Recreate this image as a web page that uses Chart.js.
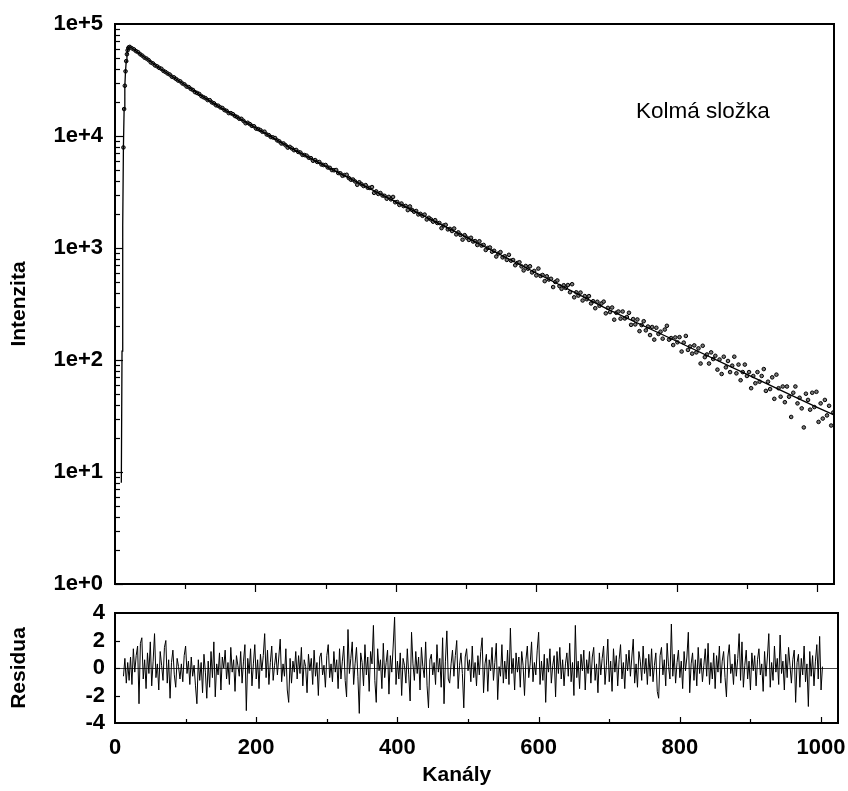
<!DOCTYPE html>
<html>
<head>
<meta charset="utf-8">
<script src="https://cdn.jsdelivr.net/npm/chart.js@4.4.1/dist/chart.umd.min.js"></script>
<style>
  body { margin:0; background:#fff; }
  #wrap { position:relative; width:848px; height:791px; }
  #top { position:absolute; left:0; top:0; }
  #bottom { position:absolute; left:0; top:600px; }
</style>
</head>
<body>
<div id="wrap">
  <canvas id="top" width="848" height="600"></canvas>
  <canvas id="bottom" width="848" height="191"></canvas>
</div>
<script>
// measured decay (channel -> counts)
var countChannels = [
  12,13,14,15,16,17,18,19,20,
  21,24,27,30,33,36,39,42,45,48,
  51,54,57,60,63,66,69,72,75,78,
  81,84,87,90,93,96,99,102,105,108,
  111,114,117,120,123,126,129,132,135,138,
  141,144,147,150,153,156,159,162,165,168,
  171,174,177,180,183,186,189,192,195,198,
  201,204,207,210,213,216,219,222,225,228,
  231,234,237,240,243,246,249,252,255,258,
  261,264,267,270,273,276,279,282,285,288,
  291,294,297,300,303,306,309,312,315,318,
  321,324,327,330,333,336,339,342,345,348,
  351,354,357,360,363,366,369,372,375,378,
  381,384,387,390,393,396,399,402,405,408,
  411,414,417,420,423,426,429,432,435,438,
  441,444,447,450,453,456,459,462,465,468,
  471,474,477,480,483,486,489,492,495,498,
  501,504,507,510,513,516,519,522,525,528,
  531,534,537,540,543,546,549,552,555,558,
  561,564,567,570,573,576,579,582,585,588,
  591,594,597,600,603,606,609,612,615,618,
  621,624,627,630,633,636,639,642,645,648,
  651,654,657,660,663,666,669,672,675,678,
  681,684,687,690,693,696,699,702,705,708,
  711,714,717,720,723,726,729,732,735,738,
  741,744,747,750,753,756,759,762,765,768,
  771,774,777,780,783,786,789,792,795,798,
  801,804,807,810,813,816,819,822,825,828,
  831,834,837,840,843,846,849,852,855,858,
  861,864,867,870,873,876,879,882,885,888,
  891,894,897,900,903,906,909,912,915,918,
  921,924,927,930,933,936,939,942,945,948,
  951,954,957,960,963,966,969,972,975,978,
  981,984,987,990,993,996,999,1002,1005,1008,
  1011,1014,1017,1020,1023
];
var counts = [
  7900,17400,28100,37800,46600,53700,58200,61100,62100,
  62450,60680,59350,57230,55940,53660,52140,50110,49060,47510,
  45390,44460,42700,41880,40560,39840,38150,37280,36110,35360,
  33850,33350,32280,31260,30740,29460,28880,27610,27330,26320,
  25740,24650,24200,23720,22710,22200,21750,20930,20880,19960,
  19570,18800,18630,18020,17760,17030,16760,16010,16000,15650,
  15070,14770,14270,14230,13650,13010,13120,12770,12310,12210,
  11640,11530,11300,10910,10920,10320,10180,9795,9709,9585,
  9142,8962,8572,8580,8258,7875,7997,7744,7468,7507,
  7205,7120,6788,6758,6673,6397,6341,6013,6095,5867,
  5858,5570,5506,5508,5238,5195,4962,4944,4970,4671,
  4643,4415,4478,4506,4215,4072,4084,3927,3667,3862,
  3712,3577,3641,3451,3435,3499,3106,3200,3041,3096,
  2941,2921,2755,2859,2719,2856,2561,2575,2425,2495,
  2368,2375,2180,2350,2188,2108,2140,1994,2017,1938,
  1988,1798,1861,1799,1718,1772,1673,1672,1504,1589,
  1610,1467,1481,1418,1493,1323,1378,1309,1187,1302,
  1236,1181,1234,1143,1152,1064,1149,1052,1065,960,
  1001,1010,927,944,839,892,919,825,844,783,
  869,771,781,702,735,746,685,631,691,654,
  687,605,624,569,655,563,574,506,559,523,
  531,448,498,513,457,432,465,440,467,403,
  475,363,402,376,400,340,372,349,372,320,
  335,290,331,305,320,332,261,292,268,294,
  229,264,271,234,271,235,242,264,206,232,
  208,230,181,205,222,184,199,167,197,152,
  194,171,179,155,187,202,152,157,136,159,
  144,160,119,143,164,123,132,114,135,117,
  127,93,134,106,112,93,117,102,109,82,
  101,75,107,86,98,78,89,107,76,91,
  66,78,91,72,78,56,72,62,78,64,
  72,83,53,64,55,70,45,74,56,47,
  58,42,58,47,31,51,58,41,46,37,
  25,50,44,36,51,38,52,28,41,30,
  44,32,39,26,34
];

// fitted curve
var fitChannels = [9,10,11,12,13,14,15,16,17,18,19,20,21,24,27,30,36,42,48,60,75,100,125,150,200,250,300,400,500,600,700,800,900,1000,1023];
var fitValues = [8,120,1600,8000,17500,28000,38000,46500,53500,58000,61000,62200,62400,60950,59150,57280,53830,50470,47420,41760,36190,28510,22450,18030,11890,7830,5383,2585,1250,598,288,147,74.5,37.8,32.5];

// weighted residuals
var residualChannels = [
  12,14,16,18,20,22,24,26,28,30,32,34,36,38,40,42,44,46,48,50,52,54,56,58,60,
  62,64,66,68,70,72,74,76,78,80,82,84,86,88,90,92,94,96,98,100,102,104,106,108,110,
  112,114,116,118,120,122,124,126,128,130,132,134,136,138,140,142,144,146,148,150,152,154,156,158,160,
  162,164,166,168,170,172,174,176,178,180,182,184,186,188,190,192,194,196,198,200,202,204,206,208,210,
  212,214,216,218,220,222,224,226,228,230,232,234,236,238,240,242,244,246,248,250,252,254,256,258,260,
  262,264,266,268,270,272,274,276,278,280,282,284,286,288,290,292,294,296,298,300,302,304,306,308,310,
  312,314,316,318,320,322,324,326,328,330,332,334,336,338,340,342,344,346,348,350,352,354,356,358,360,
  362,364,366,368,370,372,374,376,378,380,382,384,386,388,390,392,394,396,398,400,402,404,406,408,410,
  412,414,416,418,420,422,424,426,428,430,432,434,436,438,440,442,444,446,448,450,452,454,456,458,460,
  462,464,466,468,470,472,474,476,478,480,482,484,486,488,490,492,494,496,498,500,502,504,506,508,510,
  512,514,516,518,520,522,524,526,528,530,532,534,536,538,540,542,544,546,548,550,552,554,556,558,560,
  562,564,566,568,570,572,574,576,578,580,582,584,586,588,590,592,594,596,598,600,602,604,606,608,610,
  612,614,616,618,620,622,624,626,628,630,632,634,636,638,640,642,644,646,648,650,652,654,656,658,660,
  662,664,666,668,670,672,674,676,678,680,682,684,686,688,690,692,694,696,698,700,702,704,706,708,710,
  712,714,716,718,720,722,724,726,728,730,732,734,736,738,740,742,744,746,748,750,752,754,756,758,760,
  762,764,766,768,770,772,774,776,778,780,782,784,786,788,790,792,794,796,798,800,802,804,806,808,810,
  812,814,816,818,820,822,824,826,828,830,832,834,836,838,840,842,844,846,848,850,852,854,856,858,860,
  862,864,866,868,870,872,874,876,878,880,882,884,886,888,890,892,894,896,898,900,902,904,906,908,910,
  912,914,916,918,920,922,924,926,928,930,932,934,936,938,940,942,944,946,948,950,952,954,956,958,960,
  962,964,966,968,970,972,974,976,978,980,982,984,986,988,990,992,994,996,998,1000,1002
];
var residuals = [
  -0.6,0.7,-1.1,0.4,-0.9,0.8,-1.2,1.4,-0.3,0.9,1.6,-2.6,1.8,2.2,-0.8,0.6,-1.5,1.1,-0.4,1.9,-1.3,0.5,2.5,-0.7,0.3,
  -1.6,1.2,0.2,-0.9,1.5,2.0,-1.1,0.6,-2.2,0.4,1.3,-0.5,-1.4,0.7,0.1,-0.8,0.3,-1.0,0.9,1.6,-0.4,0.5,-1.2,0.8,-0.6,
  0.2,-1.3,-2.6,0.6,-0.9,0.4,-1.8,1.0,-0.3,-2.2,0.5,-1.4,1.2,-0.7,1.9,-2.1,0.3,-0.5,1.1,-1.6,0.8,0.0,1.3,-0.8,0.4,
  -1.2,1.5,-0.3,0.6,-1.7,0.9,0.2,-0.6,1.2,-1.1,0.5,1.7,-3.1,0.7,-0.4,1.4,-1.3,0.3,1.7,-0.8,0.6,-1.5,1.0,-0.2,0.9,
  2.5,-0.7,1.3,-1.2,0.4,1.6,-0.9,0.2,1.1,-0.5,0.8,2.1,-1.0,0.3,-0.6,1.4,-1.6,-2.5,0.7,-1.1,0.5,-0.3,1.2,-0.8,0.9,
  -0.4,1.5,-1.3,0.6,0.1,-1.8,1.0,-0.2,0.7,-1.2,1.3,-0.6,0.4,-2.0,0.8,1.1,-0.5,0.2,-1.4,0.9,1.7,-0.7,0.3,-1.0,1.2,
  -0.3,0.6,-1.5,1.4,-0.8,0.5,1.6,-0.9,-2.1,2.8,-0.4,0.7,1.9,-1.2,0.3,1.5,-0.6,-3.3,1.1,0.4,-1.3,1.7,-0.5,0.8,-1.7,
  1.2,0.3,3.1,-0.9,-2.5,1.4,-0.2,0.6,-1.5,1.8,-0.7,0.4,1.3,-1.9,0.9,-0.3,1.6,3.7,-1.2,0.5,-0.8,1.1,-2.0,0.7,0.2,
  -1.1,1.4,-0.5,-2.4,2.6,0.3,-0.9,1.2,-0.4,0.8,-1.6,1.5,0.1,-0.7,1.9,-1.3,-2.9,0.6,1.0,-0.5,0.4,-1.2,1.7,-0.3,0.7,
  -1.4,2.2,-2.6,0.5,2.7,-0.8,-1.1,0.3,1.3,-0.6,0.9,2.0,-1.5,0.2,1.1,-0.4,-2.9,0.8,1.4,-0.2,0.6,-1.0,1.6,-0.7,0.4,
  -1.3,0.9,-0.5,1.2,2.2,-1.8,0.3,1.0,-1.7,0.6,-0.2,1.5,-0.9,0.4,1.8,-2.3,0.1,-0.6,1.7,-1.1,0.5,-0.8,1.3,-1.2,2.9,
  -0.4,0.7,-1.6,1.1,-0.3,0.8,-1.4,1.2,0.2,-2.0,0.6,1.6,-0.7,0.3,1.9,-1.0,0.4,-0.5,1.3,2.6,-1.2,0.5,-0.9,1.0,-2.5,
  0.7,-0.3,1.4,-1.1,0.2,0.9,-2.1,1.2,-0.4,1.5,-0.8,0.6,-1.3,0.3,1.1,-0.6,1.8,-1.0,0.4,-2.0,3.1,-0.7,0.5,-1.5,1.0,
  -0.2,1.3,-1.6,0.6,-0.4,1.2,-1.1,0.8,1.5,-0.9,0.3,-1.8,1.1,-0.5,0.7,1.6,-1.2,0.2,2.1,-1.0,0.5,-1.7,1.4,-0.3,0.9,
  -1.3,0.6,1.7,-0.8,0.4,-1.5,1.0,-0.2,1.3,-0.6,0.8,2.1,-1.1,0.3,-1.4,1.2,0.5,-0.9,1.6,-0.4,0.7,-1.2,1.0,-0.6,1.4,
  -1.0,0.2,1.1,-1.7,-2.2,0.9,1.5,-0.5,0.6,-1.3,1.8,0.1,-0.8,3.2,-0.6,1.0,-1.1,0.4,1.3,-0.7,0.5,-1.5,1.2,-0.2,0.8,
  2.6,-1.8,0.3,1.1,-0.9,0.6,-1.3,1.5,-0.4,0.7,-1.0,0.2,1.4,-0.6,1.8,-1.2,0.4,-0.8,1.1,-1.5,0.9,-0.3,1.6,-1.1,0.5,
  1.2,-0.7,-2.1,0.8,1.7,-0.4,0.3,-1.2,1.0,-0.6,0.7,2.5,-0.9,1.9,-1.4,0.2,1.3,-0.8,0.5,-1.6,1.1,-0.2,0.9,-1.3,0.6,
  1.4,-0.5,0.3,-1.7,1.2,-0.6,0.8,2.5,-1.4,0.4,-0.9,1.6,-0.3,0.7,-1.2,2.4,-0.4,0.5,-1.6,1.0,-0.7,1.5,0.2,-1.1,0.6,
  1.3,-2.5,0.4,1.0,-1.4,0.7,-0.5,1.6,-1.0,0.3,-2.8,1.2,-0.6,0.9,-1.3,0.5,1.7,-0.8,2.3,-1.6,0.1
];

// axes
var xTickValues = [0, 200, 400, 600, 800, 1000];
var xTickLabels = ['0', '200', '400', '600', '800', '1000'];
var xMinorTicks = [100, 300, 500, 700, 900];
var yTickValues = [1, 10, 100, 1000, 10000, 100000];
var yTickLabels = ['1e+0', '1e+1', '1e+2', '1e+3', '1e+4', '1e+5'];
var rTickValues = [-4, -2, 0, 2, 4];
var rTickLabels = ['-4', '-2', '0', '2', '4'];
var annotation = { text: 'Kolmá složka', x: 742, y: 14500 };
var xTitle = { text: 'Kanály', x: 484 };

var FONT = '"Liberation Sans", Arial, sans-serif';
Chart.defaults.font.family = FONT;
Chart.defaults.color = '#000';

var pts = countChannels.map(function (c, i) { return { x: c, y: counts[i] }; });
var fitPts = fitChannels.map(function (c, i) { return { x: c, y: fitValues[i] }; });
var resPts = residualChannels.map(function (c, i) { return { x: c, y: residuals[i] }; });

function tick(ctx, x1, y1, x2, y2) {
  ctx.beginPath(); ctx.moveTo(x1, y1); ctx.lineTo(x2, y2); ctx.stroke();
}

// keep the plot box exactly where the layout puts it
function fixY(s) { s.width = 115; s.paddingTop = 0; s.paddingBottom = 0; }
function fixX(h) { return function (s) { s.height = h; s.paddingLeft = 0; s.paddingRight = 0; }; }

var topFrame = {
  id: 'topFrame',
  afterDatasetsDraw: function (chart) {
    var ctx = chart.ctx, a = chart.chartArea, xs = chart.scales.x, ys = chart.scales.y;
    ctx.save();
    ctx.strokeStyle = '#000';
    ctx.lineWidth = 1.2;
    for (var e = 0; e < 5; e++) {
      for (var m = 1; m <= 9; m++) {
        var yy = Math.round(ys.getPixelForValue(m * Math.pow(10, e))) + 0.5;
        tick(ctx, a.left, yy, a.left + (m === 1 ? 8 : 5), yy);
      }
    }
    xTickValues.concat(xMinorTicks).forEach(function (v) {
      if (v === 0) return;
      var xx = Math.round(xs.getPixelForValue(v)) + 0.5;
      tick(ctx, xx, a.bottom, xx, a.bottom + (xTickValues.indexOf(v) >= 0 ? 8 : 5));
    });
    ctx.lineWidth = 2;
    ctx.strokeRect(a.left, a.top, a.right - a.left, a.bottom - a.top);
    ctx.fillStyle = '#000';
    ctx.font = '22.5px ' + FONT;
    ctx.textBaseline = 'alphabetic';
    ctx.fillText(annotation.text, xs.getPixelForValue(annotation.x), ys.getPixelForValue(annotation.y));
    ctx.restore();
  }
};

var bottomFrame = {
  id: 'bottomFrame',
  beforeDatasetsDraw: function (chart) {
    var ctx = chart.ctx, a = chart.chartArea, ys = chart.scales.y;
    var y0 = Math.round(ys.getPixelForValue(0)) + 0.5;
    ctx.save();
    ctx.strokeStyle = '#444';
    ctx.lineWidth = 1;
    tick(ctx, a.left, y0, a.right, y0);
    ctx.restore();
  },
  afterDatasetsDraw: function (chart) {
    var ctx = chart.ctx, a = chart.chartArea, xs = chart.scales.x, ys = chart.scales.y;
    ctx.save();
    ctx.strokeStyle = '#000';
    ctx.lineWidth = 1.2;
    [-2, 0, 2].forEach(function (v) {
      var yy = Math.round(ys.getPixelForValue(v)) + 0.5;
      tick(ctx, a.left, yy, a.left + 5, yy);
    });
    xTickValues.concat(xMinorTicks).forEach(function (v) {
      if (v === 0) return;
      var xx = Math.round(xs.getPixelForValue(v)) + 0.5;
      tick(ctx, xx, a.bottom, xx, a.bottom - (xTickValues.indexOf(v) >= 0 ? 6 : 4));
    });
    ctx.lineWidth = 2;
    ctx.strokeRect(a.left, a.top, a.right - a.left, a.bottom - a.top);
    // x axis title
    ctx.fillStyle = '#000';
    ctx.font = 'bold 21px ' + FONT;
    ctx.textAlign = 'center';
    ctx.textBaseline = 'middle';
    ctx.fillText(xTitle.text, xs.getPixelForValue(xTitle.x), a.bottom + 52);
    ctx.restore();
  }
};

var bold = { size: 22, weight: 'bold' };

new Chart(document.getElementById('top'), {
  type: 'scatter',
  data: {
    datasets: [
      { data: fitPts, showLine: true, borderColor: '#000', borderWidth: 1.3, pointRadius: 0, order: 0 },
      { data: pts, pointRadius: 1.8, pointBorderWidth: 1, borderColor: '#000', backgroundColor: '#777', order: 1 }
    ]
  },
  options: {
    responsive: false,
    animation: false,
    layout: { padding: { top: 24, right: 14, left: 0, bottom: 0 } },
    plugins: { legend: { display: false }, tooltip: { enabled: false } },
    scales: {
      x: {
        type: 'linear', min: 0, max: 1024,
        grid: { display: false, drawTicks: false },
        border: { display: false },
        ticks: { display: false },
        afterFit: fixX(16)
      },
      y: {
        type: 'logarithmic', min: 1, max: 100000,
        grid: { display: false, drawTicks: false },
        border: { display: false },
        afterBuildTicks: function (s) { s.ticks = yTickValues.map(function (v) { return { value: v }; }); },
        ticks: {
          font: bold, padding: 12, autoSkip: false,
          callback: function (v, i) { return yTickLabels[i]; }
        },
        title: { display: true, text: 'Intenzita', font: { size: 21, weight: 'bold' }, padding: { top: 7, bottom: 0 } },
        afterFit: fixY
      }
    }
  },
  plugins: [topFrame]
});

new Chart(document.getElementById('bottom'), {
  type: 'scatter',
  data: {
    datasets: [
      { data: resPts, showLine: true, borderColor: '#000', borderWidth: 1, pointRadius: 0 }
    ]
  },
  options: {
    responsive: false,
    animation: false,
    layout: { padding: { top: 13, right: 10, left: 0, bottom: 0 } },
    plugins: { legend: { display: false }, tooltip: { enabled: false } },
    scales: {
      x: {
        type: 'linear', min: 0, max: 1024,
        grid: { display: false, drawTicks: false },
        border: { display: false },
        afterBuildTicks: function (s) { s.ticks = xTickValues.map(function (v) { return { value: v }; }); },
        ticks: {
          font: bold, padding: 12, autoSkip: false, maxRotation: 0,
          callback: function (v, i) { return xTickLabels[i]; }
        },
        afterFit: fixX(68)
      },
      y: {
        type: 'linear', min: -4, max: 4,
        grid: { display: false, drawTicks: false },
        border: { display: false },
        afterBuildTicks: function (s) { s.ticks = rTickValues.map(function (v) { return { value: v }; }); },
        ticks: {
          font: bold, padding: 10, autoSkip: false,
          callback: function (v, i) { return rTickLabels[i]; }
        },
        title: { display: true, text: 'Residua', font: { size: 21, weight: 'bold' }, padding: { top: 7, bottom: 0 } },
        afterFit: fixY
      }
    }
  },
  plugins: [bottomFrame]
});
</script>
</body>
</html>
